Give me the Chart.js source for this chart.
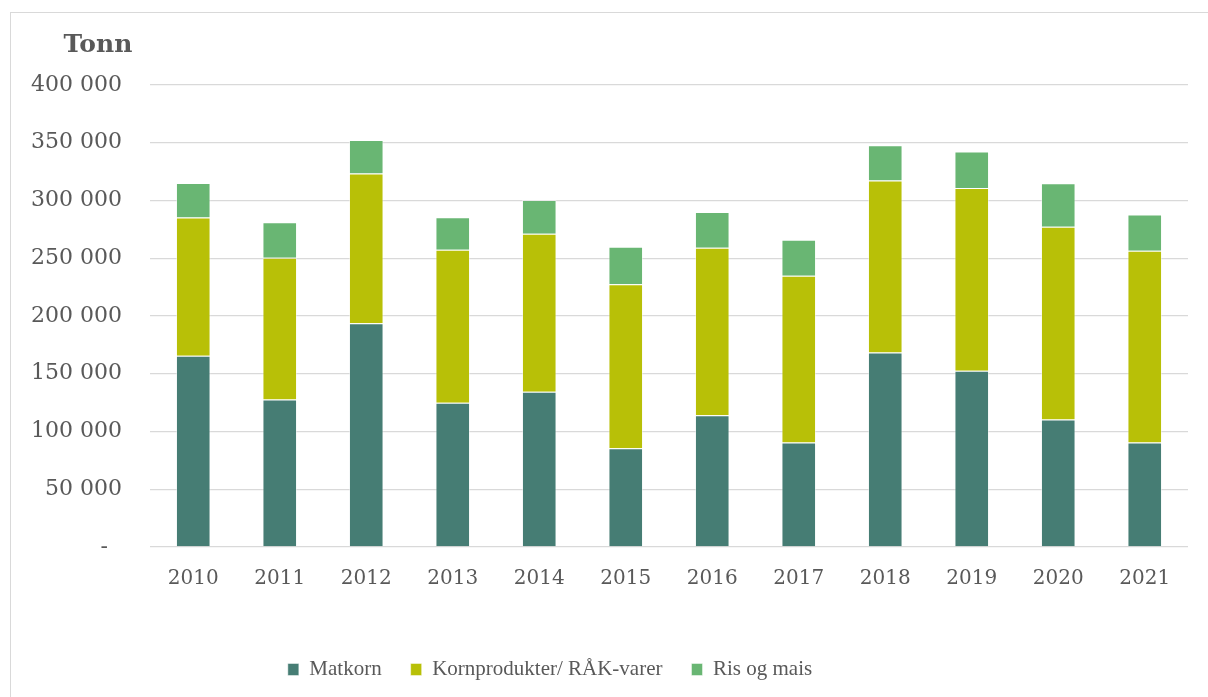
<!DOCTYPE html>
<html>
<head>
<meta charset="utf-8">
<title>Import av korn</title>
<script src="https://cdn.jsdelivr.net/npm/chart.js@4.4.1/dist/chart.umd.min.js"></script>
<style>
    html, body { margin: 0; padding: 0; background: #fff; overflow: hidden; }
    #frame {
        position: absolute; left: 10px; top: 12px; width: 1300px; height: 800px;
        border: 1.5px solid #d9d9d9;
    }
    #importChart { position: absolute; left: 0; top: 0; }
</style>
</head>
<body>
<div id="frame"></div>
<canvas id="importChart" width="1208" height="697"></canvas>
<script>
    // år og tonn per varegruppe
    const years = ['2010', '2011', '2012', '2013', '2014', '2015', '2016', '2017', '2018', '2019', '2020', '2021'];
    const matkorn = [165600, 127700, 193700, 124800, 134400, 85500, 114100, 90400, 168500, 152600, 110300, 90400];
    const kornprodukter = [119600, 122700, 129700, 132600, 136900, 142000, 145000, 144400, 148800, 158300, 167000, 166100];
    const risOgMais = [30000, 30700, 28900, 28000, 29100, 32500, 30900, 31300, 30600, 31500, 37600, 31300];

    const textColor = '#595959';
    const gridColor = '#d9d9d9';

    // tall med mellomrom som tusenskille, null vises som strek
    function formatTonn(value) {
        if (value === 0) return '-  ';
        return String(value).replace(/\B(?=(\d{3})+(?!\d))/g, ' ');
    }

    // aksetittel "Tonn" over y-aksen
    const tonnTitle = {
        id: 'tonnTitle',
        afterDraw(chart) {
            const ctx = chart.ctx;
            ctx.save();
            ctx.font = 'bold 25px "DejaVu Serif"';
            ctx.fillStyle = textColor;
            ctx.textAlign = 'center';
            ctx.textBaseline = 'middle';
            ctx.fillText('Tonn', chart.chartArea.left - 52, chart.chartArea.top - 40);
            ctx.restore();
        }
    };

    // flytt legenden litt mot venstre
    const legendShift = {
        id: 'legendShift',
        afterLayout(chart) {
            chart.legend.left -= 44;
            chart.legend.right -= 44;
        }
    };

    new Chart(document.getElementById('importChart').getContext('2d'), {
        type: 'bar',
        data: {
            labels: years,
            datasets: [{
                label: 'Matkorn',
                data: matkorn,
                backgroundColor: '#467d74',
                borderColor: 'rgba(255, 255, 255, 0.45)',
                borderWidth: 1
            }, {
                label: 'Kornprodukter/ RÅK-varer',
                data: kornprodukter,
                backgroundColor: '#b8c007',
                borderColor: 'rgba(255, 255, 255, 0.45)',
                borderWidth: 1
            }, {
                label: 'Ris og mais',
                data: risOgMais,
                backgroundColor: '#69b673',
                borderColor: 'rgba(255, 255, 255, 0.45)',
                borderWidth: 1
            }]
        },
        options: {
            responsive: false,
            animation: false,
            barPercentage: 0.4,
            categoryPercentage: 1,
            layout: {
                padding: { top: 85, right: 20, bottom: 7, left: 0 }
            },
            scales: {
                x: {
                    stacked: true,
                    grid: { display: false },
                    border: { display: false },
                    ticks: {
                        color: textColor,
                        font: { family: '"DejaVu Serif"', size: 20 },
                        padding: 12
                    },
                    afterFit(scale) {
                        scale.height = 83;
                    }
                },
                y: {
                    stacked: true,
                    min: 0,
                    max: 400000,
                    grid: { color: gridColor, lineWidth: 1.3, drawTicks: false },
                    border: { display: false },
                    ticks: {
                        stepSize: 50000,
                        color: textColor,
                        font: { family: '"DejaVu Serif"', size: 22 },
                        padding: 28,
                        callback: value => formatTonn(value)
                    },
                    afterFit(scale) {
                        scale.width = 150;
                    }
                }
            },
            plugins: {
                legend: {
                    position: 'bottom',
                    labels: {
                        color: textColor,
                        font: { family: '"Liberation Serif"', size: 21 },
                        boxWidth: 11,
                        boxHeight: 12,
                        padding: 29
                    }
                },
                tooltip: { enabled: false }
            }
        },
        plugins: [tonnTitle, legendShift]
    });
</script>
</body>
</html>
